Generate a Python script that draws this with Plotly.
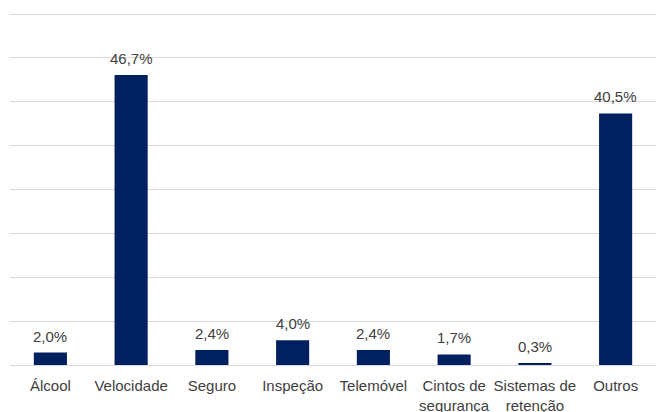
import plotly.graph_objects as go

categories = ["Álcool", "Velocidade", "Seguro", "Inspeção", "Telemóvel",
              "Cintos de<br>segurança", "Sistemas de<br>retenção", "Outros"]
values = [2.0, 46.7, 2.4, 4.0, 2.4, 1.7, 0.3, 40.5]
labels = ["2,0%", "46,7%", "2,4%", "4,0%", "2,4%", "1,7%", "0,3%", "40,5%"]

bar_color = "#002060"
text_color = "#404040"
font_family = "Liberation Sans, Arial"

fig = go.Figure()

fig.add_trace(go.Bar(
    x=categories,
    y=values,
    marker_color=bar_color,
    marker_line_width=0,
    hoverinfo="x+y",
))

# data labels above bars
for cat, val, lab in zip(categories, values, labels):
    fig.add_annotation(
        x=cat, y=val, text=lab,
        showarrow=False, yanchor="bottom", yshift=6,
        font=dict(size=15, color=text_color, family=font_family),
    )

fig.update_layout(
    width=657,
    height=412,
    margin=dict(l=10, r=1, t=11, b=47, autoexpand=False),
    paper_bgcolor="white",
    plot_bgcolor="white",
    bargap=0.59,
    showlegend=False,
    font=dict(family=font_family, size=15, color=text_color),
)

fig.update_xaxes(
    automargin=False,
    showline=True,
    linecolor="#d9d9d9",
    linewidth=1,
    ticks="",
    ticklabelstandoff=7,
    tickfont=dict(size=15, color=text_color),
)

fig.update_yaxes(
    automargin=False,
    range=[0, 57],
    tick0=0,
    dtick=56.5 / 8,
    showgrid=True,
    gridcolor="#d9d9d9",
    gridwidth=1,
    showticklabels=False,
    zeroline=False,
)

fig.write_html("out.html", config={"displayModeBar": False},
               post_script="document.body.style.margin='0';")
